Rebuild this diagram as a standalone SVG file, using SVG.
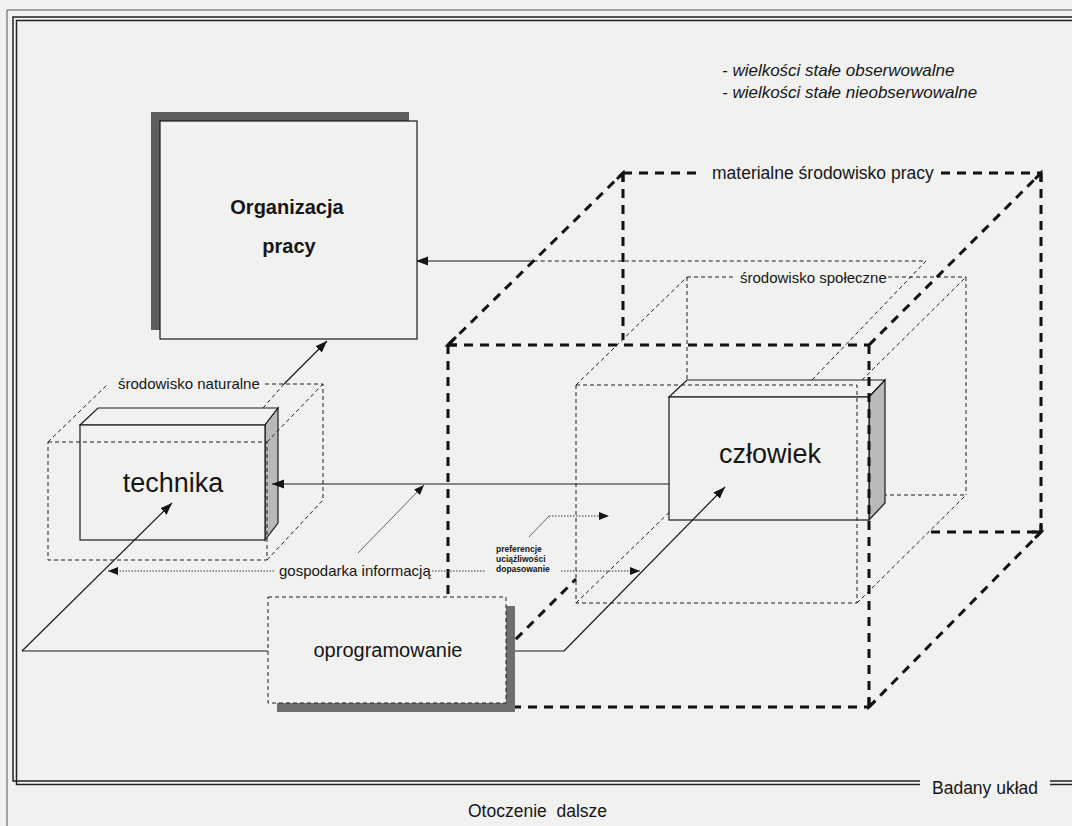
<svg xmlns="http://www.w3.org/2000/svg" width="1072" height="826" viewBox="0 0 1072 826">
<defs>
<marker id="arr" markerUnits="userSpaceOnUse" markerWidth="13" markerHeight="10" refX="12" refY="4.5" orient="auto"><path d="M0,0 L12,4.5 L0,9 Z" fill="#151515"/></marker>
<marker id="arrs" markerUnits="userSpaceOnUse" markerWidth="12" markerHeight="9" refX="10" refY="4" orient="auto"><path d="M0,0 L10,4 L0,8 Z" fill="#151515"/></marker>
<style>
.t{font-family:"Liberation Sans",Arial,sans-serif;fill:#161616}
.thin{fill:none;stroke:#1e1e1e;stroke-width:1;stroke-dasharray:4 3}
.thick{fill:none;stroke:#111;stroke-width:3;stroke-dasharray:9 7}
.spike{fill:none;stroke:#111;stroke-width:3;stroke-linejoin:miter;stroke-miterlimit:10}
.solid{fill:none;stroke:#1a1a1a;stroke-width:1.2}
.dot{fill:none;stroke:#333;stroke-width:1;stroke-dasharray:1.5 1.5}
.face{fill:#f1f1ef;stroke:#1a1a1a;stroke-width:1.2}
.side{fill:#b9b9b9;stroke:#1a1a1a;stroke-width:1.2}
.frame{fill:none;stroke:#222;stroke-width:1.5}
</style>
</defs>
<rect x="0" y="0" width="1072" height="826" fill="#f1f1ef"/>

<g id="frame">
<path d="M7,826 V10 H1072" fill="none" stroke="#555" stroke-width="1"/>
<path class="frame" d="M1072,17 H13 V781 H920 M1050,781 H1072"/>
<path class="frame" d="M1072,20.5 H16.5 V784.5 H920 M1050,784.5 H1072"/>
<text class="t" x="932" y="794" font-size="17.5">Badany układ</text>
<text class="t" x="468" y="817" font-size="17.5" xml:space="preserve">Otoczenie  dalsze</text>
</g>

<g id="legend">
<text class="t" x="722" y="76" font-size="17" font-style="italic">- wielkości stałe obserwowalne</text>
<text class="t" x="722" y="98" font-size="17" font-style="italic">- wielkości stałe nieobserwowalne</text>
</g>

<g id="srodowisko-spoleczne-back">
<path class="thin" d="M687,277 H735 M888,277 H966 M687,277 V495 M966,277 V495 M687,495 H966 M857,385 L966,277 M576,603 L687,495"/>
</g>

<g id="technika">
<polygon class="face" points="80,425 98,408 278,408 265,425"/>
<polygon class="side" points="265,425 278,408 278,523 265,540"/>
<rect class="face" x="80" y="425" width="185" height="115"/>
<text class="t" x="173" y="492" font-size="27" text-anchor="middle">technika</text>
</g>

<g id="czlowiek">
<polygon class="face" points="669,397 687,380 885,380 869,397"/>
<polygon class="side" points="869,397 885,380 885,503 869,520"/>
<rect class="face" x="669" y="397" width="200" height="123"/>
<text class="t" x="770" y="463" font-size="27" text-anchor="middle">człowiek</text>
</g>

<g id="srodowisko-naturalne">
<path class="thin" d="M265,384 H323 V500 M48,442 L108,384 M267,442 L323,384 M267,560 L323,500 M48,442 H267 V560 H48 Z"/>
<text class="t" x="118" y="389" font-size="15">środowisko naturalne</text>
</g>

<g id="srodowisko-spoleczne">
<path class="thin" d="M576,385 L687,277 M857,603 L966,495 M576,385 H857 V603 H576 Z"/>
<text class="t" x="740" y="283" font-size="15">środowisko społeczne</text>
</g>

<g id="materialne-srodowisko-pracy">
<path class="thick" d="M623,173 H700 M941,173 H1041 M623,173 V340 M1041,173 V532 M931,532 H1041 M448,345 L623,173 M869,345 L1041,173 M869,707 L1041,532 M448,707 L576,579 M448,345 H869 M448,345 V707 M869,345 V707 M448,707 H869"/>
<path class="spike" d="M456,337 L448,345 L457,345 M623,182 L623,173 L617,179 M1041,523 L1041,532 M1032,532 L1041,532 L1035,538 M869,698 L869,707 L875,701 M1041,182 L1041,173 L1035,179"/>
<text class="t" x="712" y="179" font-size="17.5">materialne środowisko pracy</text>
</g>

<g id="connectors">
<path class="solid" d="M22,651 H564"/>
<path class="solid" d="M22,651 L172,503" marker-end="url(#arr)"/>
<path class="solid" d="M564,651 L725,487" marker-end="url(#arr)"/>
<path class="solid" d="M669,484 H272" marker-end="url(#arr)"/>
<path class="thin" d="M812,380 L926,261 H537"/>
<path class="solid" d="M537,261 H416" marker-end="url(#arr)"/>
<path class="thin" d="M263,408 L284,384"/>
<path class="solid" d="M284,384 L327,341" marker-end="url(#arr)"/>
<path class="dot" d="M274,571 H108" marker-end="url(#arrs)"/>
<path class="dot" d="M432,571 H486"/>
<path class="dot" d="M561,571 H640" marker-end="url(#arrs)"/>
<path fill="none" stroke="#555" stroke-width="0.9" d="M358,553 L424,485" marker-end="url(#arrs)"/>
<path fill="none" stroke="#555" stroke-width="0.9" d="M529,537 L549,516"/>
<path class="dot" d="M549,516 H609" marker-end="url(#arrs)"/>
<text class="t" x="279" y="576" font-size="15">gospodarka informacją</text>
<text class="t" x="496" y="552" font-size="8.5" font-weight="bold">preferencje</text>
<text class="t" x="496" y="562" font-size="8.5" font-weight="bold">uciążliwości</text>
<text class="t" x="496" y="572" font-size="8.5" font-weight="bold">dopasowanie</text>
</g>

<g id="oprogramowanie">
<rect x="277" y="606" width="238" height="106" fill="#6e6e6e"/>
<rect x="268" y="597" width="238" height="106" fill="#f1f1ef" stroke="#1e1e1e" stroke-width="1" stroke-dasharray="4 3"/>
<text class="t" x="388" y="657" font-size="20" text-anchor="middle">oprogramowanie</text>
</g>

<g id="organizacja-pracy">
<rect x="151" y="112" width="258" height="218" fill="#5e5e5e"/>
<rect class="face" x="160" y="121" width="257" height="218"/>
<text class="t" x="287" y="214" font-size="20" font-weight="bold" text-anchor="middle">Organizacja</text>
<text class="t" x="289" y="253" font-size="20" font-weight="bold" text-anchor="middle">pracy</text>
</g>
</svg>
